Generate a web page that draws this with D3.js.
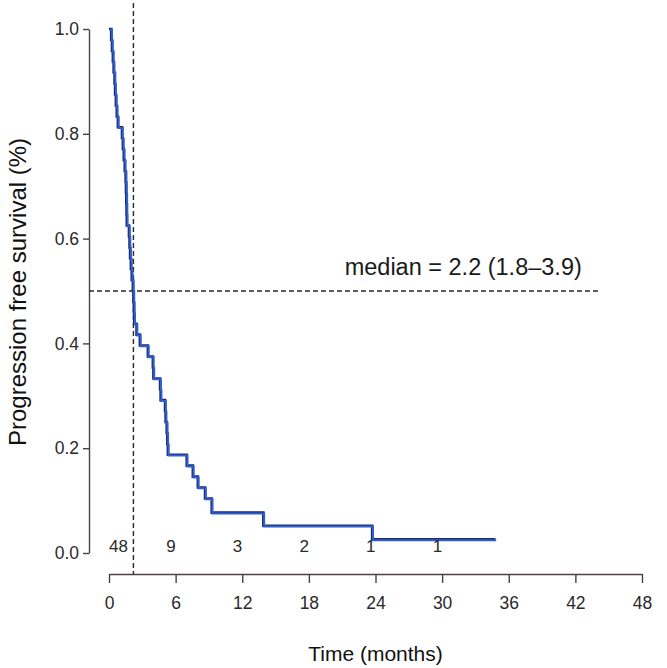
<!DOCTYPE html>
<html>
<head>
<meta charset="utf-8">
<script src="https://cdn.jsdelivr.net/npm/d3@7"></script>
<style>
  html, body { margin: 0; padding: 0; background: #fff; }
  svg { display: block; font-family: "Liberation Sans", Arial, sans-serif; }
</style>
</head>
<body>
<svg id="chart" width="667" height="668"></svg>
<script>
// ---- data ----
const kmTimes = [0, 0.2, 0.27, 0.35, 0.42, 0.5, 0.55, 0.62, 0.7, 0.8,
  1.17, 1.25, 1.33, 1.42, 1.5, 1.53, 1.56, 1.58, 1.6, 1.8,
  1.85, 1.9, 1.97, 2.05, 2.15, 2.2, 2.24, 2.27, 2.48, 2.78,
  3.5, 3.95, 4.0, 4.6, 4.65, 5.05, 5.1, 5.2, 5.25, 5.3,
  7.0, 7.55, 8.0, 8.65, 9.25, 13.9, 23.7];
const kmSurv = [1, 0.979, 0.958, 0.938, 0.917, 0.896, 0.875, 0.854, 0.833, 0.8125,
  0.792, 0.771, 0.75, 0.729, 0.708, 0.6875, 0.667, 0.646, 0.625, 0.604,
  0.583, 0.5625, 0.542, 0.521, 0.5, 0.479, 0.458, 0.4375, 0.4167, 0.396,
  0.375, 0.354, 0.333, 0.3125, 0.2917, 0.271, 0.25, 0.229, 0.208, 0.1875,
  0.1667, 0.1458, 0.125, 0.104, 0.077, 0.052, 0.026];
const kmEndTime = 34.8;

const riskTimes = [0, 6, 12, 18, 24, 30];
const riskCounts = [48, 9, 3, 2, 1, 1];

const xTicks = [0, 6, 12, 18, 24, 30, 36, 42, 48];
const yTicks = [0, 0.2, 0.4, 0.6, 0.8, 1.0];

const medianTime = 2.2;
const medianSurv = 0.5;
const medianLineEnd = 44.2;
const medianLabel = "median = 2.2 (1.8\u20133.9)";
const xTitle = "Time (months)";
const yTitle = "Progression free survival (%)";

// ---- layout ----
const svg = d3.select("#chart");
const x = d3.scaleLinear().domain([0, 48]).range([109, 642]);
const y = d3.scaleLinear().domain([0, 1]).range([553, 29]);
const yAxisX = 89;
const xAxisY = 574;
const axisColor = "#4a4242";
const textColor = "#2a2a2a";

// axes
const yAxis = svg.append("g")
  .attr("transform", `translate(${yAxisX},0)`)
  .call(d3.axisLeft(y).tickValues(yTicks).tickFormat(d3.format(".1f"))
    .tickSize(6).tickSizeOuter(0).tickPadding(4));
const xAxis = svg.append("g")
  .attr("transform", `translate(0,${xAxisY})`)
  .call(d3.axisBottom(x).tickValues(xTicks).tickFormat(d3.format("d"))
    .tickSize(9).tickSizeOuter(0).tickPadding(14));
[yAxis, xAxis].forEach(g => {
  g.selectAll("path.domain").attr("stroke", axisColor).attr("stroke-width", 1.4);
  g.selectAll(".tick line").attr("stroke", axisColor).attr("stroke-width", 1.4);
  g.selectAll(".tick text").attr("fill", textColor).style("font-size", "17.5px");
});

// median reference lines
svg.append("line")
  .attr("x1", x(medianTime)).attr("x2", x(medianTime))
  .attr("y1", y(1.08)).attr("y2", xAxisY)
  .attr("stroke", "#2a2a2a").attr("stroke-width", 1.4).attr("stroke-dasharray", "5,3");
svg.append("line")
  .attr("x1", yAxisX).attr("x2", x(medianLineEnd))
  .attr("y1", y(medianSurv)).attr("y2", y(medianSurv))
  .attr("stroke", "#2a2a2a").attr("stroke-width", 1.3).attr("stroke-dasharray", "5,3");

svg.append("text")
  .attr("x", x(medianLineEnd) - 18).attr("y", y(medianSurv) - 16)
  .attr("text-anchor", "end")
  .attr("fill", "#1a1a1a")
  .style("font-size", "23.5px")
  .text(medianLabel);

// KM curve
const pts = kmTimes.map((t, i) => [t, kmSurv[i]]);
pts.push([kmEndTime, kmSurv[kmSurv.length - 1]]);
const line = d3.line().x(d => x(d[0])).y(d => y(d[1])).curve(d3.curveStepAfter);
svg.append("path").attr("d", line(pts))
  .attr("fill", "none").attr("stroke", "#1c2868").attr("stroke-width", 2.6);
svg.append("path").attr("d", line(pts))
  .attr("transform", "translate(0.8,0.8)")
  .attr("fill", "none").attr("stroke", "#2f5fd0").attr("stroke-width", 2);

// numbers at risk
svg.append("g").selectAll("text").data(riskTimes).join("text")
  .attr("x", d => x(d))
  .attr("y", 552)
  .attr("text-anchor", (d, i) => i === 0 ? "start" : "end")
  .attr("fill", textColor)
  .style("font-size", "17px")
  .text((d, i) => riskCounts[i]);

// titles
svg.append("text")
  .attr("x", (x(0) + x(48)) / 2).attr("y", 661)
  .attr("text-anchor", "middle").attr("fill", "#111")
  .style("font-size", "21px").text(xTitle);
svg.append("text")
  .attr("transform", `translate(26,${(y(0) + y(1)) / 2 + 1}) rotate(-90)`)
  .attr("text-anchor", "middle").attr("fill", "#111")
  .style("font-size", "24px").text(yTitle);
</script>
</body>
</html>
